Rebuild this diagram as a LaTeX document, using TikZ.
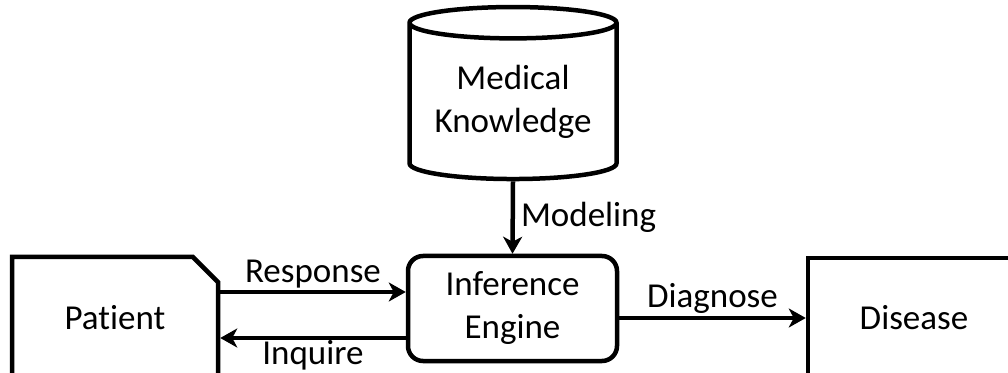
\documentclass[tikz,border=0pt]{standalone}
\usepackage{fontspec}
\setmainfont{Carlito}[Ligatures=NoCommon]
\usetikzlibrary{positioning, arrows.meta, shapes.geometric, shapes.misc}

\tikzset{
  block/.style={draw, line width=4.5pt, inner sep=0pt, align=center,
                font=\fontsize{35}{43}\selectfont},
  flow/.style={line width=4.5pt, -{Stealth[length=17pt, width=19pt, inset=5pt]}},
  tag/.style={font=\fontsize{35}{40}\selectfont, inner sep=2pt}
}

\begin{document}
\begin{tikzpicture}[x=1pt, y=1pt]
  \clip (0,0) rectangle (1008,372);
  \fill[white] (0,0) rectangle (1008,372);

  % boxes
  \node[block, shape=cylinder, shape border rotate=90, aspect=0.2,
        minimum width=207pt, minimum height=172pt] (knowledge)
        at (513,270) {Medical\\Knowledge};
  \node[block, rounded corners=15pt, minimum width=209pt,
        minimum height=105pt] (engine) at (512.5,63.5) {Inference\\Engine};
  \node[block, chamfered rectangle, chamfered rectangle corners=north east,
        chamfered rectangle xsep=13pt, chamfered rectangle ysep=13pt,
        minimum width=206pt, minimum height=122pt] (patient)
        at (115,54) {Patient};
  \node[block, minimum width=212pt, minimum height=120pt] (disease)
        at (914,54) {Disease};

  \coordinate (resp) at ([yshift=26pt]patient.east);
  \coordinate (inq) at ([yshift=-20pt]patient.east);

  % connectors
  \draw[flow] (knowledge.south) -- node[tag, right=4pt] {Modeling} (engine.north);
  \draw[flow] (resp) -- node[tag, above] {Response} (engine.west |- resp);
  \draw[flow] (engine.west |- inq) -- node[tag, below, inner sep=0pt] {Inquire} (inq);
  \draw[flow] (engine.east |- disease.west) -- node[tag, above] {Diagnose} (disease.west);
\end{tikzpicture}
\end{document}
